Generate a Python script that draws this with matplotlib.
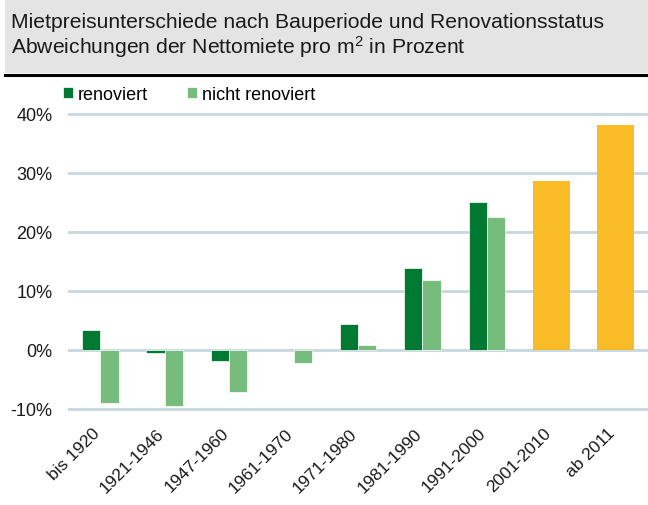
import numpy as np
import matplotlib
matplotlib.use("Agg")
import matplotlib.pyplot as plt
from matplotlib.patches import Rectangle
from matplotlib.lines import Line2D

plt.rcParams['font.family'] = ['Liberation Sans', 'DejaVu Sans']

# data (percent)
categories = ["bis 1920", "1921-1946", "1947-1960", "1961-1970", "1971-1980",
              "1981-1990", "1991-2000", "2001-2010", "ab 2011"]
renoviert = [3.4, -0.5, -1.9, np.nan, 4.3, 13.8, 25.0, np.nan, np.nan]
nicht_renoviert = [-9.0, -9.5, -7.2, -2.2, 0.8, 11.8, 22.5, np.nan, np.nan]
neubau = [np.nan] * 7 + [28.6, 38.1]
y_ticks = [-10, 0, 10, 20, 30, 40]

DARK = "#007a33"
LIGHT = "#77bb7d"
YELLOW = "#f9bc26"
GRID = "#c6d7de"

W, H = 648, 506
fig = plt.figure(figsize=(W / 100, H / 100), dpi=100)

# header band
fig.patches.append(Rectangle((5 / W, 1 - 74 / H), 1 - 5 / W, 74 / H,
                             transform=fig.transFigure, facecolor="#e4e4e4",
                             edgecolor="none", zorder=0))
fig.lines.append(Line2D([5 / W, 1], [1 - 75.5 / H, 1 - 75.5 / H],
                        transform=fig.transFigure, color="black", lw=2.2))
fig.text(11 / W, 1 - 27.5 / H, "Mietpreisunterschiede nach Bauperiode und Renovationsstatus",
         fontsize=15.2, va="baseline", ha="left", color="#1a1a1a")
fig.text(11 / W, 1 - 53.5 / H, "Abweichungen der Nettomiete pro m$\\mathregular{^2}$ in Prozent",
         fontsize=15.2, va="baseline", ha="left", color="#1a1a1a")

ax = fig.add_axes([68 / W, 1 - 411.5 / H, 580 / W, (411.5 - 112.9) / H])

x = np.arange(len(categories))
bw = 0.285
b1 = ax.bar(x - bw / 2, renoviert, bw, color=DARK, edgecolor="white", linewidth=0.5,
            label="renoviert", zorder=3)
b2 = ax.bar(x + bw / 2, nicht_renoviert, bw, color=LIGHT, edgecolor="white", linewidth=0.5,
            label="nicht renoviert", zorder=3)
ax.bar(x, neubau, 0.58, color=YELLOW, zorder=3)

ax.set_xlim(-0.5, len(categories) - 0.5)
ax.set_ylim(-10.3, 40.3)
ax.set_yticks(y_ticks)
ax.set_yticklabels([f"{v}%" for v in y_ticks])
ax.yaxis.grid(True, color=GRID, lw=2, zorder=0)
ax.set_axisbelow(True)

ax.set_xticks(x)
ax.set_xticklabels(categories, rotation=45, ha="right", va="baseline",
                   rotation_mode="anchor")
ax.tick_params(axis="x", length=0, pad=16.6, labelsize=12.5, colors="#1a1a1a")
ax.tick_params(axis="y", length=0, pad=11, labelsize=13, colors="#1a1a1a")
for s in ax.spines.values():
    s.set_visible(False)

fig.legend(handles=[b1, b2], loc="center left", ncol=2, frameon=False,
           bbox_to_anchor=(63 / W, 1 - 95 / H), fontsize=13,
           handlelength=0.55, handleheight=0.55, handletextpad=0.25,
           columnspacing=2.2, borderpad=0, borderaxespad=0)

fig.savefig("out.png", dpi=100, facecolor="white")
